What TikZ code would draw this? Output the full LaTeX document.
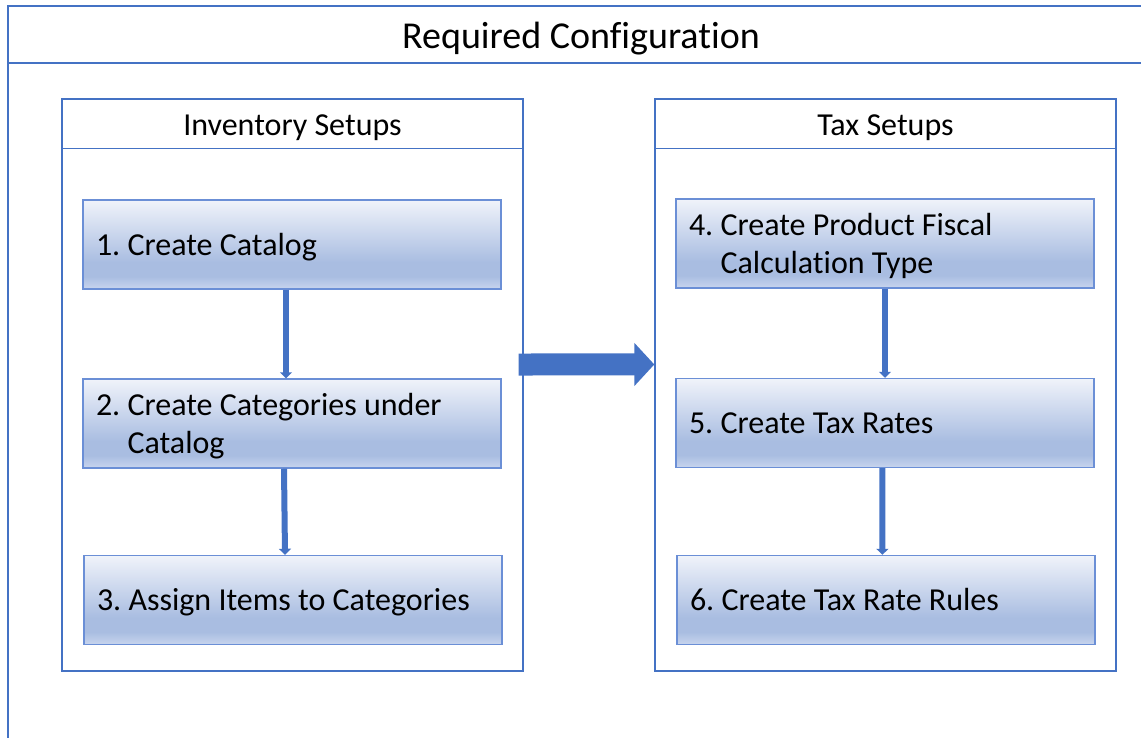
\documentclass[tikz,border=0pt]{standalone}
\usepackage{fontspec}
\setmainfont{Carlito}[Ligatures=NoCommon]
\frenchspacing
\usetikzlibrary{arrows.meta,positioning}

\definecolor{cfgblue}{HTML}{4472C4}
\definecolor{stepline}{HTML}{6B8FD6}
\definecolor{steptop}{HTML}{F0F3FA}
\definecolor{stepmid}{HTML}{A9BDE1}
\definecolor{stepbot}{HTML}{C8D5EE}
\pgfdeclareverticalshading{stepshade}{100bp}{color(0bp)=(stepbot); color(25bp)=(stepbot); color(32bp)=(stepmid); color(40bp)=(stepmid); color(75bp)=(steptop); color(100bp)=(steptop)}
\newcommand{\stepstrut}{\rule[-8.5pt]{0pt}{33pt}}
\newcommand{\stepdepth}{\rule[-8.5pt]{0pt}{8.5pt}}

\tikzset{
  group/.style={draw=cfgblue, line width=1pt, minimum width=461*0.75pt, minimum height=572*0.75pt, inner sep=0pt},
  grouphead/.style={minimum width=461*0.75pt, minimum height=50*0.75pt, inner sep=0pt, anchor=north, yshift=-3pt, font=\fontsize{24}{28}\selectfont},
  stepbox/.style={draw=stepline, line width=1.1pt, shading=stepshade, minimum width=418*0.75pt, minimum height=89*0.75pt, text width=392*0.75pt, inner xsep=13*0.75pt, inner ysep=0pt, align=left, font=\fontsize{24}{28.5}\selectfont},
  flow/.style={draw=cfgblue, line width=4.5pt, -{Triangle[width=9pt,length=4.5pt]}},
  bigflow/.style={draw=cfgblue, line width=16.5pt, -{Triangle[width=31.5pt,length=15pt]}}
}

\begin{document}
\begin{tikzpicture}[x=0.75pt,y=-0.75pt]
\path[use as bounding box] (0,0) rectangle (1141,738);
\clip (0,0) rectangle (1141,738);

% outer frame, runs past the right and bottom edge
\draw[cfgblue, line width=1.5pt] (8,760) -- (8,6) -- (1160,6);
\draw[cfgblue, line width=1.5pt] (8,63) -- (1160,63);
\node[font=\fontsize{28.5}{34}\selectfont] (title) at (581,38.5) {Required Configuration};

% the two groups
\node[group] (inv) at (292.5,385) {};
\node[grouphead] (invhead) at (inv.north) {Inventory Setups};
\draw[cfgblue, line width=1pt] (inv.north west) rectangle ([yshift=-37.5pt]inv.north east);
\node[group] (tax) at (885.5,385) {};
\node[grouphead] (taxhead) at (tax.north) {Tax Setups};
\draw[cfgblue, line width=1pt] (tax.north west) rectangle ([yshift=-37.5pt]tax.north east);

% steps
\node[stepbox] (catalog) at (292,244.5) {\spaceskip=0pt\stepstrut1. Create Catalog};
\node[stepbox] (categ) at (292,423.5) {\spaceskip=0pt\stepstrut2. Create Categories under\\\phantom{2. }Catalog\stepdepth};
\node[stepbox] (assign) at (293,600) {\spaceskip=0pt\stepstrut3. Assign Items to Categories};
\node[stepbox] (fiscal) at (885,243.5) {\spaceskip=0pt\stepstrut4. Create Product Fiscal\\\phantom{4. }Calculation Type\stepdepth};
\node[stepbox] (rates) at (885,423) {\spaceskip=0pt\stepstrut5. Create Tax Rates};
\node[stepbox] (rules) at (886,600) {\spaceskip=0pt\stepstrut6. Create Tax Rate Rules};

% connectors
\draw[flow] ([xshift=-4.5pt]catalog.south) -- ([xshift=-4.5pt]categ.north);
\draw[flow] ([xshift=-6pt]categ.south) -- ([xshift=-6pt]assign.north);
\draw[flow] (fiscal.south) -- (rates.north);
\draw[flow] ([xshift=-2pt]rates.south) -- ([xshift=-2.7pt]rules.north);
\draw[bigflow] ([shift={(-5,-20.5)}]inv.east) -- ([yshift=15.4pt]tax.west);

\end{tikzpicture}
\end{document}
